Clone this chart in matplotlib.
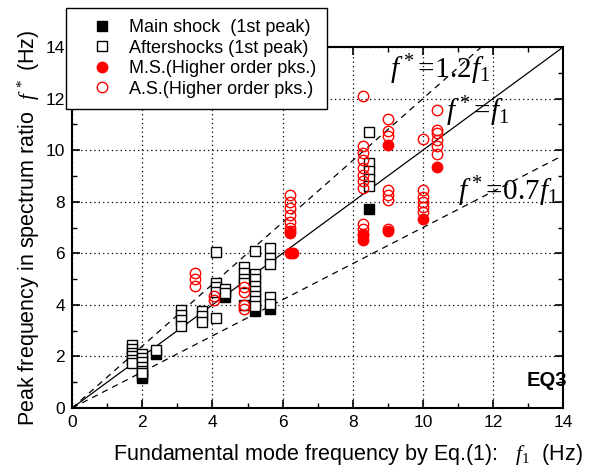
import matplotlib
matplotlib.use('Agg')
import matplotlib.pyplot as plt
import numpy as np

plt.rcParams['font.family'] = ['Liberation Sans', 'DejaVu Sans']
plt.rcParams['mathtext.fontset'] = 'custom'
plt.rcParams['mathtext.rm'] = 'Liberation Serif'
plt.rcParams['mathtext.it'] = 'Liberation Serif:italic'

# main shock, 1st peak
ms_x = [2.0, 2.0, 2.4, 4.35, 5.2, 5.65, 8.45]
ms_y = [1.15, 1.25, 2.1, 4.3, 3.75, 3.85, 7.7]

# aftershocks, 1st peak
as_x = [1.7, 1.7, 1.7, 1.7, 1.7, 1.7,
        2.0, 2.0, 2.0, 2.0, 2.0, 2.0,
        2.4,
        3.1, 3.1, 3.1, 3.1,
        3.7, 3.7, 3.7,
        4.1, 4.1, 4.1, 4.1, 4.1,
        4.35, 4.35,
        4.9, 4.9, 4.9, 4.9, 4.9,
        5.2, 5.2, 5.2, 5.2, 5.2, 5.2, 5.2, 5.2,
        5.65, 5.65, 5.65, 5.65, 5.65,
        8.45, 8.45, 8.45, 8.45, 8.45]
as_y = [2.45, 2.3, 2.15, 2.0, 1.85, 1.75,
        2.1, 1.95, 1.8, 1.6, 1.45, 1.35,
        2.25,
        3.8, 3.6, 3.4, 3.2,
        3.75, 3.55, 3.35,
        6.05, 4.85, 4.7, 4.5, 3.5,
        4.6, 4.45,
        5.45, 5.25, 5.0, 4.85, 4.0,
        6.1, 5.2, 5.0, 4.75, 4.55, 4.35, 4.15, 3.95,
        6.2, 5.8, 5.6, 4.3, 4.05,
        10.7, 9.5, 9.2, 8.9, 8.6]

# main shock, higher order peaks
msh_x = [6.2, 6.3, 6.2, 8.3, 8.3, 9.0, 9.0, 10.0, 10.4]
msh_y = [6.0, 6.0, 6.8, 6.5, 6.7, 10.2, 6.85, 7.35, 9.35]

# aftershocks, higher order peaks
ash_x = [3.5, 3.5, 3.5,
         4.05, 4.05,
         4.9, 4.9, 4.9, 4.9,
         6.2, 6.2, 6.2, 6.2, 6.2, 6.2, 6.2,
         8.3, 8.3, 8.3, 8.3, 8.3, 8.3, 8.3, 8.3, 8.3, 8.3, 8.3,
         9.0, 9.0, 9.0, 9.0, 9.0, 9.0, 9.0,
         10.0, 10.0, 10.0, 10.0, 10.0, 10.0,
         10.4, 10.4, 10.4, 10.4, 10.4, 10.4]
ash_y = [5.25, 5.0, 4.75,
         4.35, 4.2,
         4.7, 4.5, 4.0, 3.85,
         8.25, 8.0, 7.75, 7.5, 7.2, 7.0, 6.85,
         12.1, 10.15, 9.9, 9.6, 9.3, 9.05, 8.8, 8.55, 7.15, 6.95, 6.75,
         11.2, 10.75, 10.55, 8.45, 8.25, 8.05, 6.95,
         10.45, 8.45, 8.2, 8.0, 7.8, 7.6,
         11.55, 10.8, 10.65, 10.4, 10.15, 9.85]

ratios = [1.2, 1.0, 0.7]

fig = plt.figure(figsize=(5.96, 4.75), dpi=100)
ax = fig.add_axes([0.121, 0.141, 0.824, 0.760])

xx = np.array([0, 14])
ax.plot(xx, ratios[0] * xx, 'k--', lw=0.9, dashes=(5, 4))
ax.plot(xx, ratios[1] * xx, 'k-', lw=0.9)
ax.plot(xx, ratios[2] * xx, 'k--', lw=0.9, dashes=(5, 4))

ax.plot(ms_x, ms_y, 's', ms=6.5, mfc='black', mec='black', mew=1,
        ls='none', label='Main shock  (1st peak)')
ax.plot(as_x, as_y, 's', ms=6.5, mfc='white', mec='black', mew=1,
        ls='none', label='Aftershocks (1st peak)')
ax.plot(msh_x, msh_y, 'o', ms=7.5, mfc='red', mec='red', mew=1,
        ls='none', label='M.S.(Higher order pks.)')
ax.plot(ash_x, ash_y, 'o', ms=7.5, mfc='none', mec='red', mew=1,
        ls='none', label='A.S.(Higher order pks.)')

ax.text(9.05, 13.1, r'$f^*\!=\!1.2f_1$', fontsize=21, va='center')
ax.text(10.65, 11.5, r'$f^*\!=\!f_1$', fontsize=21, va='center')
ax.text(11.0, 8.4, r'$f^*\!=\!0.7f_1$', fontsize=21, va='center')
ax.text(12.95, 1.05, 'EQ3', fontsize=14.5, fontweight='bold', va='center')

ax.set_xlim(0, 14)
ax.set_ylim(0, 14)
ax.set_xticks(np.arange(0, 15, 2))
ax.set_yticks(np.arange(0, 15, 2))
ax.set_xticks(np.arange(0, 15, 1), minor=True)
ax.set_yticks(np.arange(0, 15, 1), minor=True)
ax.tick_params(which='both', direction='in', top=True, right=True, labelsize=12.5)
ax.tick_params(which='major', length=6, width=1.2, pad=5)
ax.tick_params(which='minor', length=3.5, width=1.0)
ax.grid(True, which='major', color='black', ls=(0, (1, 2.5)), lw=0.9)
for s in ax.spines.values():
    s.set_linewidth(1.5)

ax.set_xlabel(r'Fundamental mode frequency by Eq.(1):   $\mathit{f_{1}}$  (Hz)',
              fontsize=15.5, labelpad=9, x=0.562)
ax.set_ylabel(r'Peak frequency in spectrum ratio  $\mathit{f}^{\;*}$ (Hz)',
              fontsize=15.5, labelpad=3)

leg = ax.legend(loc='upper left', bbox_to_anchor=(0.111, 0.983),
                bbox_transform=fig.transFigure, fontsize=13, frameon=True,
                fancybox=False, framealpha=1, edgecolor='black',
                handletextpad=0.1, labelspacing=0.2, borderpad=0.6,
                handlelength=2.8, borderaxespad=0)
leg.get_frame().set_linewidth(1.0)
leg.set_zorder(10)

fig.savefig('out.png', dpi=100)
